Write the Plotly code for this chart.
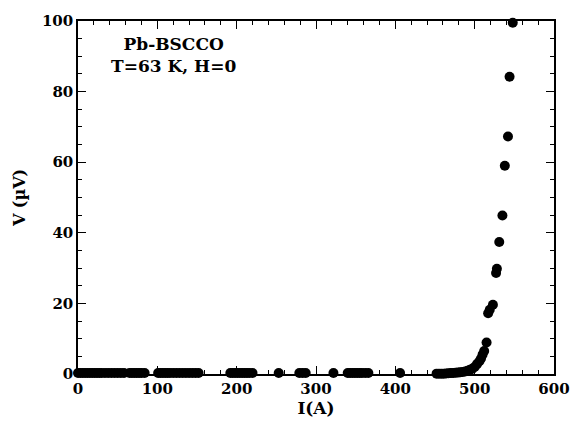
import plotly.graph_objects as go

# Current I (A) and voltage V (µV)
I_low = [0, 3, 6, 9, 12, 15, 18, 21, 24, 27, 30, 34, 38, 42, 46, 50, 54, 58,
         65, 68, 71, 74, 77, 80, 84,
         101, 104, 107, 110, 113, 116, 120, 124, 128, 132, 136, 140, 144, 148, 152,
         192, 195, 198, 201, 204, 207, 210, 213, 216, 220, 253, 279, 283, 287, 322,
         340, 343, 346, 349, 352, 355, 358, 362, 366, 406]
V_low = [0.3] * len(I_low)

I_knee = [452, 455, 458, 461, 464, 467, 470, 473, 476, 479, 482, 485, 488, 491, 494, 497, 500,
          503, 506, 508, 510, 512, 515, 517, 519, 523, 527, 528, 531, 535, 538, 542, 544, 548]
V_knee = [0.1, 0.1, 0.1, 0.1, 0.15, 0.2, 0.25, 0.3, 0.35, 0.4, 0.5, 0.6, 0.7, 0.9, 1.2, 1.5, 2.0,
          2.8, 3.6, 4.4, 5.5, 6.5, 8.9, 17.2, 18.2, 19.6, 28.6, 29.8, 37.4, 44.9, 59, 67.3, 84.2, 99.5]

I_all = I_low + I_knee
V_all = V_low + V_knee

FONT = "DejaVu Serif"

fig = go.Figure()
fig.add_trace(go.Scatter(
    x=I_all, y=V_all, mode="markers",
    marker=dict(color="black", size=10),
    showlegend=False, cliponaxis=False,
))

axis_common = dict(
    showgrid=False, zeroline=False, showline=True, linecolor="black", linewidth=1.5,
    mirror="ticks", ticks="inside", ticklen=8, tickwidth=1.3, tickcolor="black",
    tickfont=dict(family=FONT, size=15, color="black", weight="bold"),
)

fig.update_xaxes(
    range=[0, 600], tick0=0, dtick=100,
    minor=dict(ticks="inside", ticklen=4, tickcolor="black", dtick=20, tick0=0),
    title=dict(text="I(A)", font=dict(family=FONT, size=17, color="black", weight="bold"), standoff=4),
    **axis_common,
)
fig.update_yaxes(
    range=[0, 100], tick0=0, dtick=20,
    minor=dict(ticks="inside", ticklen=4, tickcolor="black", dtick=5, tick0=0),
    title=dict(text="V (µV)", font=dict(family=FONT, size=16, color="black", weight="bold"), standoff=12),
    **axis_common,
)

fig.add_annotation(
    x=0.2, y=0.905, xref="paper", yref="paper", showarrow=False,
    xanchor="center", yanchor="middle",
    text="Pb-BSCCO<br>T=63 K, H=0", align="center",
    font=dict(family=FONT, size=17, color="black", weight="bold"),
)

fig.update_layout(
    width=582, height=426,
    margin=dict(l=78, r=18, t=14, b=51),
    paper_bgcolor="white", plot_bgcolor="white",
)

fig.write_html("out.html")
